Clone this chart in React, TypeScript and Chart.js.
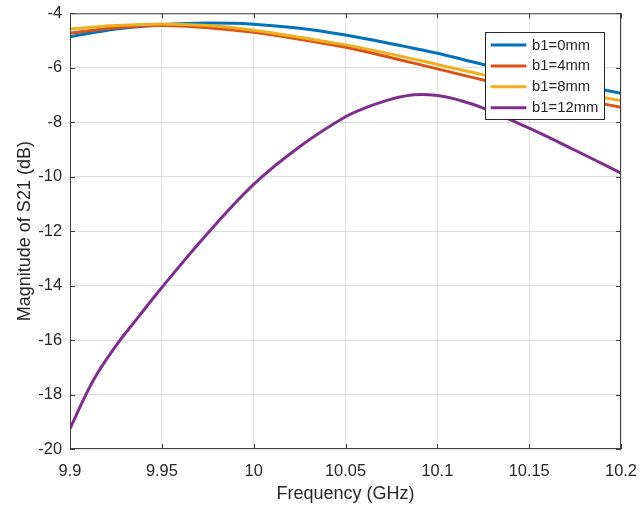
import React, { useEffect, useRef } from "react";
import { Chart, registerables } from "chart.js";

Chart.register(...registerables);

// ---- data ----
const freqGHz = [9.9, 9.925, 9.95, 9.975, 10.0, 10.025, 10.05, 10.075, 10.1, 10.125, 10.15, 10.175, 10.2];
const s21_b1_0mm = [-4.86, -4.58, -4.42, -4.36, -4.4, -4.55, -4.8, -5.12, -5.47, -5.88, -6.25, -6.6, -6.94];
const s21_b1_4mm = [-4.73, -4.53, -4.45, -4.53, -4.7, -4.95, -5.25, -5.63, -6.04, -6.45, -6.8, -7.13, -7.45];
const s21_b1_8mm = [-4.58, -4.45, -4.39, -4.45, -4.62, -4.88, -5.16, -5.5, -5.88, -6.26, -6.6, -6.92, -7.2];

// b1=12mm is sampled more finely where it bends strongly
const freqGHz_12mm = [
  9.9, 9.9125, 9.925, 9.9375, 9.95, 9.975, 10.0, 10.025, 10.05, 10.0625, 10.075, 10.0875, 10.1, 10.1125,
  10.125, 10.15, 10.175, 10.2,
];
const s21_b1_12mm = [
  -19.25, -17.5, -16.21, -15.13, -14.07, -12.08, -10.28, -8.9, -7.8, -7.43, -7.15, -6.99, -7.02, -7.2,
  -7.48, -8.22, -9.03, -9.87,
];

const seriesLabels = ["b1=0mm", "b1=4mm", "b1=8mm", "b1=12mm"];
const seriesColors = ["#0072BD", "#D95319", "#EDB120", "#7E2F8E"];
const seriesFreqs = [freqGHz, freqGHz, freqGHz, freqGHz_12mm];
const seriesValues = [s21_b1_0mm, s21_b1_4mm, s21_b1_8mm, s21_b1_12mm];

const xTickValues = [9.9, 9.95, 10, 10.05, 10.1, 10.15, 10.2];
const yTickValues = [-20, -18, -16, -14, -12, -10, -8, -6, -4];

const xTitle = "Frequency (GHz)";
const yTitle = "Magnitude of S21 (dB)";

const FONT = '"Liberation Sans", Arial, Helvetica, sans-serif';
const TEXT = "#262626";
const AXIS = "#404040";

const framePlugin = {
  id: "matlabFrame",
  afterDraw(chart: any) {
    const { ctx, chartArea: ca, scales } = chart;
    ctx.save();
    // box
    ctx.strokeStyle = AXIS;
    ctx.lineWidth = 1;
    ctx.strokeRect(ca.left + 0.5, ca.top + 0.5, ca.right - ca.left - 1, ca.bottom - ca.top - 1);
    // inward ticks
    const tl = 5;
    ctx.beginPath();
    xTickValues.forEach((v) => {
      const px = Math.round(scales.x.getPixelForValue(v)) + 0.5;
      ctx.moveTo(px, ca.bottom);
      ctx.lineTo(px, ca.bottom - tl);
      ctx.moveTo(px, ca.top);
      ctx.lineTo(px, ca.top + tl);
    });
    yTickValues.forEach((v) => {
      const py = Math.round(scales.y.getPixelForValue(v)) + 0.5;
      ctx.moveTo(ca.left, py);
      ctx.lineTo(ca.left + tl, py);
      ctx.moveTo(ca.right, py);
      ctx.lineTo(ca.right - tl, py);
    });
    ctx.stroke();

    // legend
    ctx.font = `14.8px ${FONT}`;
    const labels = chart.data.datasets.map((d: any) => d.label);
    const maxW = Math.max(...labels.map((l: string) => ctx.measureText(l).width));
    const boxW = 46.7 + maxW + 6;
    const boxH = 87.3;
    const boxRight = ca.right - 16.7;
    const boxLeft = boxRight - boxW;
    const boxTop = ca.top + 18.4;
    ctx.fillStyle = "#ffffff";
    ctx.fillRect(boxLeft, boxTop, boxW, boxH);
    ctx.strokeStyle = TEXT;
    ctx.lineWidth = 1;
    ctx.strokeRect(Math.round(boxLeft) + 0.5, Math.round(boxTop) + 0.5, Math.round(boxW), Math.round(boxH));
    chart.data.datasets.forEach((d: any, i: number) => {
      const cy = boxTop + 13.3 + i * 20.9;
      ctx.strokeStyle = d.borderColor;
      ctx.lineWidth = 3;
      ctx.beginPath();
      ctx.moveTo(boxLeft + 5.3, cy);
      ctx.lineTo(boxLeft + 41, cy);
      ctx.stroke();
      ctx.fillStyle = TEXT;
      ctx.textBaseline = "middle";
      ctx.textAlign = "left";
      ctx.fillText(d.label, boxLeft + 46.7, cy + 0.5);
    });
    ctx.restore();
  },
};

export default function App() {
  const ref = useRef<HTMLCanvasElement | null>(null);

  useEffect(() => {
    if (!ref.current) return;
    const datasets = seriesValues.map((vals, i) => ({
      label: seriesLabels[i],
      data: seriesFreqs[i].map((f, j) => ({ x: f, y: vals[j] })),
      borderColor: seriesColors[i],
      backgroundColor: seriesColors[i],
      borderWidth: 3,
      pointRadius: 0,
      ...(i === 3 ? { tension: 0.4 } : { cubicInterpolationMode: "monotone" as const }),
      fill: false,
      order: seriesValues.length - 1 - i,
    }));

    const chart = new Chart(ref.current, {
      type: "line",
      data: { datasets },
      plugins: [framePlugin],
      options: {
        responsive: false,
        animation: false,
        devicePixelRatio: 1,
        layout: { padding: { top: 13.3, right: 20, left: 0, bottom: 0 } },
        plugins: { legend: { display: false }, tooltip: { enabled: false } },
        scales: {
          x: {
            type: "linear",
            min: 9.9,
            max: 10.2,
            afterFit: (s: any) => {
              s.height = 61;
              s.paddingLeft = 0;
              s.paddingRight = 0;
            },
            afterBuildTicks: (s: any) => {
              s.ticks = xTickValues.map((v) => ({ value: v }));
            },
            ticks: {
              color: TEXT,
              font: { family: FONT, size: 16.4 },
              padding: 13,
              maxRotation: 0,
              callback: (v: any) => String(Number(Number(v).toFixed(2))),
            },
            grid: { color: "rgba(38,38,38,0.15)", lineWidth: 1, drawTicks: false },
            border: { display: false },
            title: {
              display: true,
              text: xTitle,
              color: TEXT,
              font: { family: FONT, size: 18, lineHeight: 1.2 },
              padding: { top: 0, bottom: 5 },
            },
          },
          y: {
            type: "linear",
            min: -20,
            max: -4,
            afterFit: (s: any) => {
              s.width = 70;
              s.paddingTop = 0;
              s.paddingBottom = 0;
            },
            afterBuildTicks: (s: any) => {
              s.ticks = yTickValues.map((v) => ({ value: v }));
            },
            ticks: {
              color: TEXT,
              font: { family: FONT, size: 16.4 },
              padding: 8,
              callback: (v: any) => String(v),
            },
            grid: { color: "rgba(38,38,38,0.15)", lineWidth: 1, drawTicks: false },
            border: { display: false },
            title: {
              display: true,
              text: yTitle,
              color: TEXT,
              font: { family: FONT, size: 18, lineHeight: 1.2 },
              padding: { top: 14, bottom: 0 },
            },
          },
        },
      },
    });
    return () => chart.destroy();
  }, []);

  return (
    <div style={{ position: "absolute", left: 0, top: 0, width: 641, height: 510, background: "#fff" }}>
      <canvas ref={ref} width={641} height={510} />
    </div>
  );
}
